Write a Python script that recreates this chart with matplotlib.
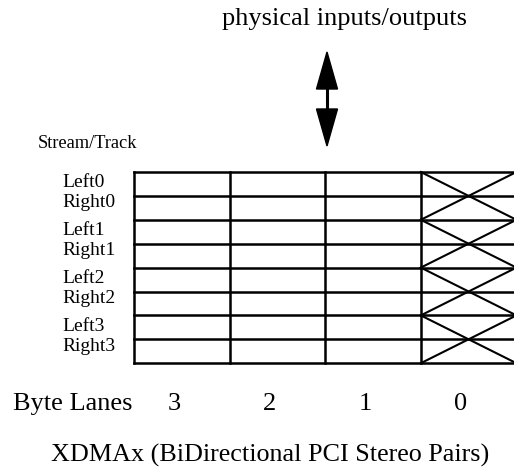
import matplotlib.pyplot as plt
from matplotlib.patches import Polygon

# diagram content
tracks = ["Left0", "Right0", "Left1", "Right1", "Left2", "Right2", "Left3", "Right3"]
byte_lanes = [3, 2, 1, 0]
crossed_lanes = [0]  # lanes drawn with the X pattern
title = "XDMAx (BiDirectional PCI Stereo Pairs)"
top_label = "physical inputs/outputs"

plt.rcParams["font.family"] = ["Liberation Serif", "DejaVu Serif"]

# layout in pixels (figure is 514x472 at 100 dpi)
W, H = 514, 472
grid_left, grid_top = 134, 172
col_w, row_h = 95.6, 23.9
lw = 1.8

fig = plt.figure(figsize=(W / 100, H / 100), dpi=100)
ax = fig.add_axes([0, 0, 1, 1])
ax.set_xlim(0, W)
ax.set_ylim(H, 0)
ax.axis("off")

n_rows = len(tracks)
n_cols = len(byte_lanes)
grid_right = grid_left + n_cols * col_w
grid_bottom = grid_top + n_rows * row_h

# horizontal lines
for r in range(n_rows + 1):
    y = grid_top + r * row_h
    ax.plot([grid_left, grid_right], [y, y], color="black", lw=lw, solid_capstyle="projecting")
# vertical lines
for c in range(n_cols + 1):
    x = grid_left + c * col_w
    ax.plot([x, x], [grid_top, grid_bottom], color="black", lw=lw, solid_capstyle="projecting")

# X pattern across each stereo pair in crossed lanes
for c, lane in enumerate(byte_lanes):
    if lane not in crossed_lanes:
        continue
    x0 = grid_left + c * col_w
    x1 = x0 + col_w
    for p in range(n_rows // 2):
        y0 = grid_top + 2 * p * row_h
        y1 = y0 + 2 * row_h
        ax.plot([x0, x1], [y0, y1], color="black", lw=1.5)
        ax.plot([x0, x1], [y1, y0], color="black", lw=1.5)

# track labels
for r, name in enumerate(tracks):
    yc = grid_top + (r + 0.5) * row_h
    yc += -1 if name.startswith("Left") else -5
    ax.text(62, yc, name, fontsize=14, ha="left", va="center")

ax.text(38, 144, "Stream/Track", fontsize=13.2, ha="left", va="center")

# byte lane labels
ax.text(13, 404, "Byte Lanes", fontsize=19, ha="left", va="center")
for c, lane in enumerate(byte_lanes):
    xc = grid_left + (c + 0.5) * col_w - 8
    ax.text(xc, 404, str(lane), fontsize=19, ha="center", va="center")

ax.text(270, 455, title, fontsize=18.8, ha="center", va="center")
ax.text(344.5, 19, top_label, fontsize=19, ha="center", va="center")

# double headed arrow
ax_x = 327
hw, hl = 10.5, 37
ax.add_patch(Polygon([[ax_x, 52], [ax_x - hw, 52 + hl], [ax_x + hw, 52 + hl]], color="black"))
ax.add_patch(Polygon([[ax_x, 146], [ax_x - hw, 146 - hl], [ax_x + hw, 146 - hl]], color="black"))
ax.plot([ax_x, ax_x], [52 + hl, 146 - hl], color="black", lw=2.2)

fig.savefig("out.png", dpi=100)
